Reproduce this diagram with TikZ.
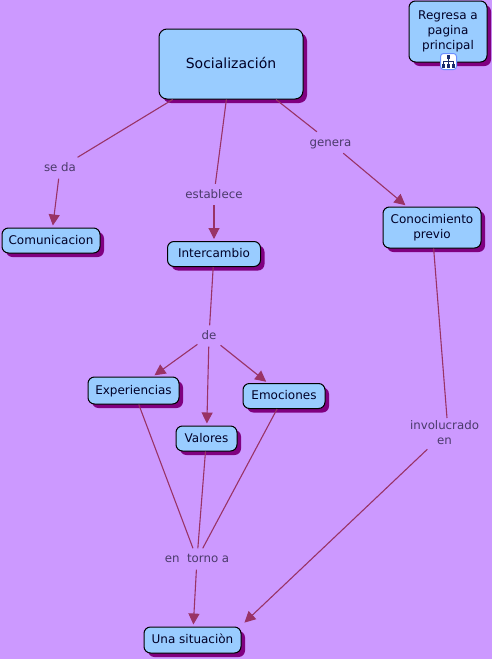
\documentclass[tikz,border=0pt]{standalone}
\usepackage{fontspec}
\setmainfont{DejaVu Sans}
\usetikzlibrary{arrows.meta,shadows}
\definecolor{bg}{HTML}{CC99FF}
\definecolor{boxfill}{HTML}{99CCFF}
\definecolor{shade}{HTML}{800080}
\definecolor{link}{HTML}{993366}
\definecolor{lab}{HTML}{4B3A6B}
\definecolor{icon}{HTML}{1A2A6C}
\tikzset{
  x=1pt,y=-1pt,
  concept/.style={draw=black,line width=1pt,fill=boxfill,rounded corners=6.5pt,align=center,
    inner sep=0pt,font=\fontsize{12}{15}\selectfont,text=black!85!blue,text height=9.5pt,text depth=2.5pt,
    drop shadow={shadow xshift=4pt,shadow yshift=-4pt,fill=shade,opacity=1}},
  lbl/.style={text=lab,align=center,inner sep=4pt,text height=10pt,text depth=3pt,font=\fontsize{11.8}{15}\selectfont},
  multi/.style={text height=,text depth=},
  lnk/.style={draw=link,line width=1.1pt},
  arr/.style={lnk,shorten >=2pt,-{Triangle[length=11pt,width=11pt,fill=link]}},
  iconbit/.style={fill=icon,minimum size=3.6pt,inner sep=0pt},
}
\begin{document}
\begin{tikzpicture}
\useasboundingbox[fill=bg] (0,0) rectangle (492,659);
% concepts
\node[concept,minimum width=144pt,minimum height=70pt,rounded corners=8pt,font=\fontsize{14}{17}\selectfont,text height=11pt,text depth=3pt] (soc) at (231,64) {Socialización};
\node[concept,multi,minimum width=78pt,minimum height=61pt] (reg) at (448,31.5) {Regresa a\\pagina\\principal};
\node[concept,minimum width=98pt,minimum height=25pt] (com) at (51,240.5) {Comunicacion};
\node[concept,minimum width=93pt,minimum height=25pt] (int) at (214,254) {Intercambio};
\node[concept,multi,minimum width=98pt,minimum height=41pt] (con) at (432,227.5) {Conocimiento\\previo};
\node[concept,minimum width=91pt,minimum height=27pt] (exp) at (133.5,390.5) {Experiencias};
\node[concept,minimum width=82pt,minimum height=25pt] (emo) at (284,396) {Emociones};
\node[concept,minimum width=61pt,minimum height=25pt] (val) at (206.5,438.5) {Valores};
\node[concept,minimum width=97pt,minimum height=26pt] (sit) at (192.5,640) {Una situaciòn};
% icon
\node[draw=boxfill!70!blue,line width=1pt,fill=white,rounded corners=3pt,minimum size=16pt,inner sep=0pt] (ico) at (448.5,61.5) {};
\node[iconbit] (i0) at (448.5,57) {};
\node[iconbit] (i1) at (443.5,66) {};
\node[iconbit] (i2) at (448.5,66) {};
\node[iconbit] (i3) at (453.5,66) {};
\draw[icon,line width=.7pt] (i0) -- (i2);
\draw[icon,line width=.7pt] (i1) -- (443.5,61.5) -- (453.5,61.5) -- (i3);
% labels
\node[lbl] (seda) at (60,168) {se da};
\node[lbl] (est) at (214,194.5) {establece};
\node[lbl] (gen) at (330.5,142.5) {genera};
\node[lbl] (de) at (209,336) {de};
\node[lbl,multi] (inv) at (444.5,433) {involucrado\\en};
\node[lbl] (tor) at (197,559) {en\ \ torno a};
\coordinate (invtop) at (447,418);
\coordinate (sitne) at (243,624);
% connectors
\draw[lnk] (soc) -- (seda);
\draw[arr] (seda) -- (com);
\draw[lnk] (soc) -- (est);
\draw[arr] (est) -- (int);
\draw[lnk] (soc) -- (gen);
\draw[arr] (gen) -- (con);
\draw[lnk] (int) -- (de);
\draw[arr] (de) -- (exp);
\draw[arr] (de) -- (val);
\draw[arr] (de) -- (emo);
\draw[lnk] (con) -- (invtop);
\draw[arr] (inv) -- (sitne);
\draw[lnk] (exp) -- (tor);
\draw[lnk] (val) -- (tor);
\draw[lnk] (emo) -- (tor);
\draw[arr] (tor) -- (sit);
\end{tikzpicture}
\end{document}
